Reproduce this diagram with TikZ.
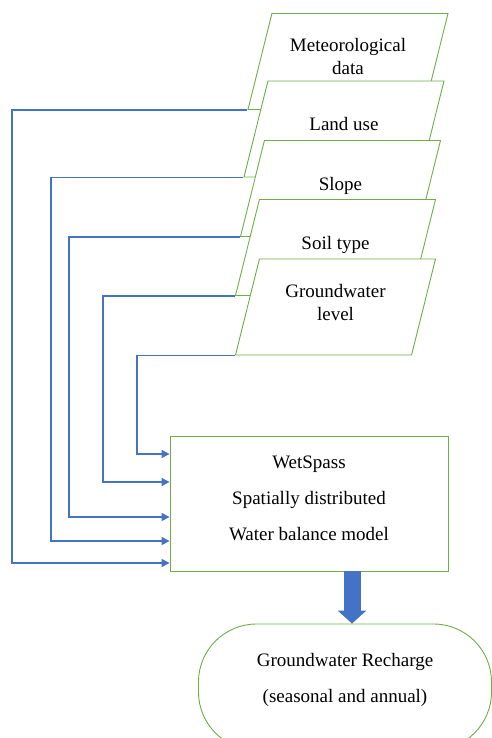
\documentclass[tikz,border=0pt]{standalone}
\usepackage{fontspec}
\setmainfont{Liberation Serif}
\usetikzlibrary{shapes.geometric,arrows.meta}

\definecolor{boxgreen}{HTML}{70AD47}
\definecolor{lineblue}{HTML}{4472C4}

\tikzset{
    para/.style={draw=boxgreen, fill=white, line width=0.9pt, shape=trapezium,
        trapezium left angle=76, trapezium right angle=104, trapezium stretches body,
        minimum width=200pt, inner ysep=0pt, text height=49.5pt, text depth=46.5pt, align=center},
    twoline/.style={text height=61.5pt, text depth=34.5pt},
    link/.style={draw=lineblue, line width=1.3pt, -{Triangle[length=8pt,width=8pt]}},
    fatarrow/.style={draw=lineblue, line width=17pt, -{Triangle[length=13pt,width=28pt]}}
}

\begin{document}
\begin{tikzpicture}[x=1pt, y=-1pt, font=\fontsize{19}{23}\selectfont]
        \useasboundingbox (0, 0) rectangle (491, 738);

        \node (met) at (348, 61.5) [para, twoline] {Meteorological\\data};
        \node (land) at (344, 129) [para] {Land use};
        \node (slope) at (340.5, 188.5) [para] {Slope};
        \node (soil) at (335.5, 247.5) [para] {Soil type};
        \node (gw) at (335.5, 307) [para, twoline] {Groundwater\\level};

        \node (model) at (309, 503.5) [draw=boxgreen, line width=0.9pt, minimum width=278pt, minimum height=135pt, text depth=11pt, align=center] {WetSpass\\[13pt]Spatially distributed\\[13pt]Water balance model};

        \node (recharge) at (345, 687) [draw=boxgreen, line width=0.9pt, rounded corners=58pt, minimum width=293pt, minimum height=126pt, text depth=19pt, align=center] {Groundwater Recharge\\[13pt](seasonal and annual)};

        \draw[link] (met.bottom left corner) -| (12, 563) -- (model.west |- 12, 563);
        \draw[link] (land.bottom left corner) -| (51, 541) -- (model.west |- 51, 541);
        \draw[link] (slope.bottom left corner) -| (69, 517) -- (model.west |- 69, 517);
        \draw[link] (soil.bottom left corner) -| (103, 482) -- (model.west |- 103, 482);
        \draw[link] (gw.bottom left corner) -| (137, 454) -- (model.west |- 137, 454);

        \draw[fatarrow] ([xshift=43pt]model.south) -- ([xshift=43pt]model.south |- recharge.north);
    \end{tikzpicture}
\end{document}
